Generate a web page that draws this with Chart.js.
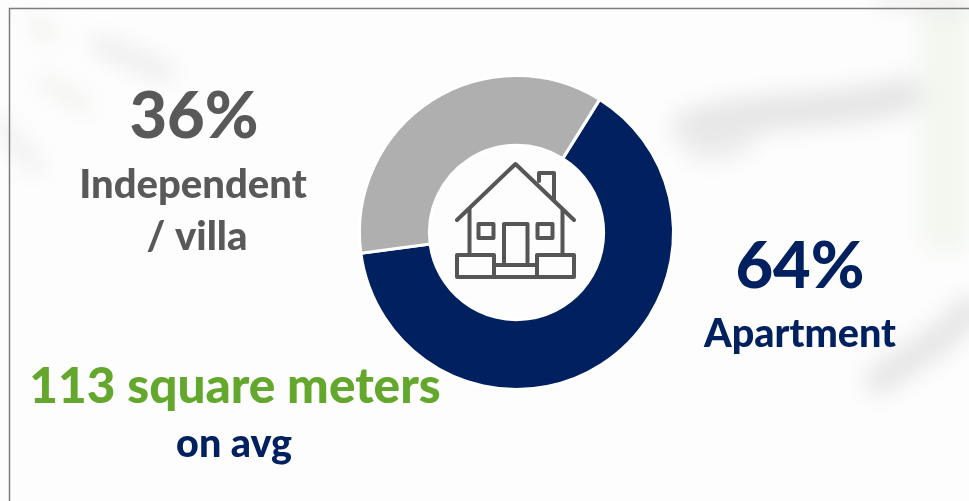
<!DOCTYPE html>
<html>
<head>
<meta charset="utf-8">
<title>Housing type</title>
<script src="https://cdn.jsdelivr.net/npm/chart.js@4"></script>
<style>
  html, body { margin: 0; padding: 0; background: #fff; overflow: hidden; }
  #wrap { position: relative; width: 969px; height: 501px; }
  #wrap svg, #wrap canvas { position: absolute; left: 0; top: 0; }
</style>
</head>
<body>
<div id="wrap">
  <!-- faded backdrop and panel frame -->
  <svg width="969" height="501" viewBox="0 0 969 501">
    <defs>
      <filter id="soft" x="-40%" y="-40%" width="180%" height="180%"><feGaussianBlur stdDeviation="11"/></filter>
      <filter id="iconSoft"><feGaussianBlur stdDeviation="0.5"/></filter>
    </defs>
    <rect width="969" height="501" fill="#fdfdfd"/>
    <g filter="url(#soft)" fill="none" stroke-linecap="round">
      <path d="M100 45 L165 72" stroke="#ebebeb" stroke-width="18"/>
      <path d="M35 22 L50 35" stroke="#f2f4f0" stroke-width="18"/>
      <path d="M45 82 L85 105" stroke="#f1f3ef" stroke-width="16"/>
      <path d="M0 125 L35 165" stroke="#f0f0f0" stroke-width="18"/>
      <path d="M690 128 C760 105 840 115 905 95" stroke="#e6e6e6" stroke-width="36"/>
      <path d="M690 135 C690 155 720 160 750 135" stroke="#ececec" stroke-width="20"/>
      <path d="M945 20 L945 230" stroke="#f3f7ef" stroke-width="50"/>
      <path d="M880 380 C920 350 945 340 969 310" stroke="#e6e6e6" stroke-width="30"/>
      <path d="M880 0 L969 6" stroke="#e6e6e6" stroke-width="10"/>
    </g>
    <path d="M9.5 501 V8.5 H969" fill="none" stroke="#7d7d7d" stroke-width="1.5"/>
  </svg>
  <canvas id="housingChart" width="969" height="501"></canvas>
  <!-- house icon in the donut hole -->
  <svg width="969" height="501" viewBox="0 0 969 501" fill="none" stroke="#565656" stroke-width="4" stroke-linejoin="round" stroke-linecap="round">
    <g filter="url(#iconSoft)">
      <path d="M457 220 L515.5 164 L574 220"/>
      <path d="M539 181 V173 H554 V199"/>
      <path d="M469.5 209 V254 M562.5 210 V254"/>
      <rect x="478.5" y="224" width="15" height="14"/>
      <rect x="537.5" y="224" width="15" height="14"/>
      <path d="M504 262 V224 H527.5 V262"/>
      <rect x="457" y="255" width="37" height="22"/>
      <rect x="494" y="265" width="43" height="12"/>
      <rect x="537" y="255" width="37" height="22"/>
    </g>
  </svg>
</div>

<script>
// Dwelling type split
const categories = ['Apartment', 'Independent / villa'];
const shares = [64, 36];
const sliceColors = ['#002060', '#afafaf'];
const avgSize = '113 square meters';
const avgNote = 'on avg';

// Text blocks around the ring
const textBlocks = [
    { text: shares[1] + '%', x: 194, y: 138, size: 65, color: '#595959' },
    { text: 'Independent', x: 193, y: 198, size: 40, color: '#595959' },
    { text: '/ villa', x: 197, y: 250, size: 40, color: '#595959' },
    { text: shares[0] + '%', x: 800, y: 288, size: 65, color: '#002060' },
    { text: categories[0], x: 800, y: 347, size: 39.5, color: '#002060' },
    { text: avgSize, x: 235, y: 403, size: 49.5, color: '#63a82c' },
    { text: avgNote, x: 234, y: 457, size: 39.5, color: '#002060' }
];

const labelPlugin = {
    id: 'sideLabels',
    afterDraw(chart) {
        const ctx = chart.ctx;
        ctx.save();
        ctx.textAlign = 'center';
        ctx.textBaseline = 'alphabetic';
        textBlocks.forEach(b => {
            ctx.font = '900 ' + b.size + 'px Lato, sans-serif';
            ctx.fillStyle = b.color;
            ctx.fillText(b.text, b.x, b.y);
        });
        ctx.restore();
    }
};

new Chart(document.getElementById('housingChart'), {
    type: 'doughnut',
    data: {
        labels: categories,
        datasets: [{
            data: shares,
            backgroundColor: sliceColors,
            borderColor: '#ffffff',
            borderWidth: 3
        }]
    },
    options: {
        responsive: false,
        animation: false,
        rotation: 32,
        cutout: '55.5%',
        layout: { padding: { top: 74, bottom: 110, left: 358, right: 294 } },
        plugins: {
            legend: { display: false },
            tooltip: { enabled: false }
        }
    },
    plugins: [labelPlugin]
});
</script>
</body>
</html>
